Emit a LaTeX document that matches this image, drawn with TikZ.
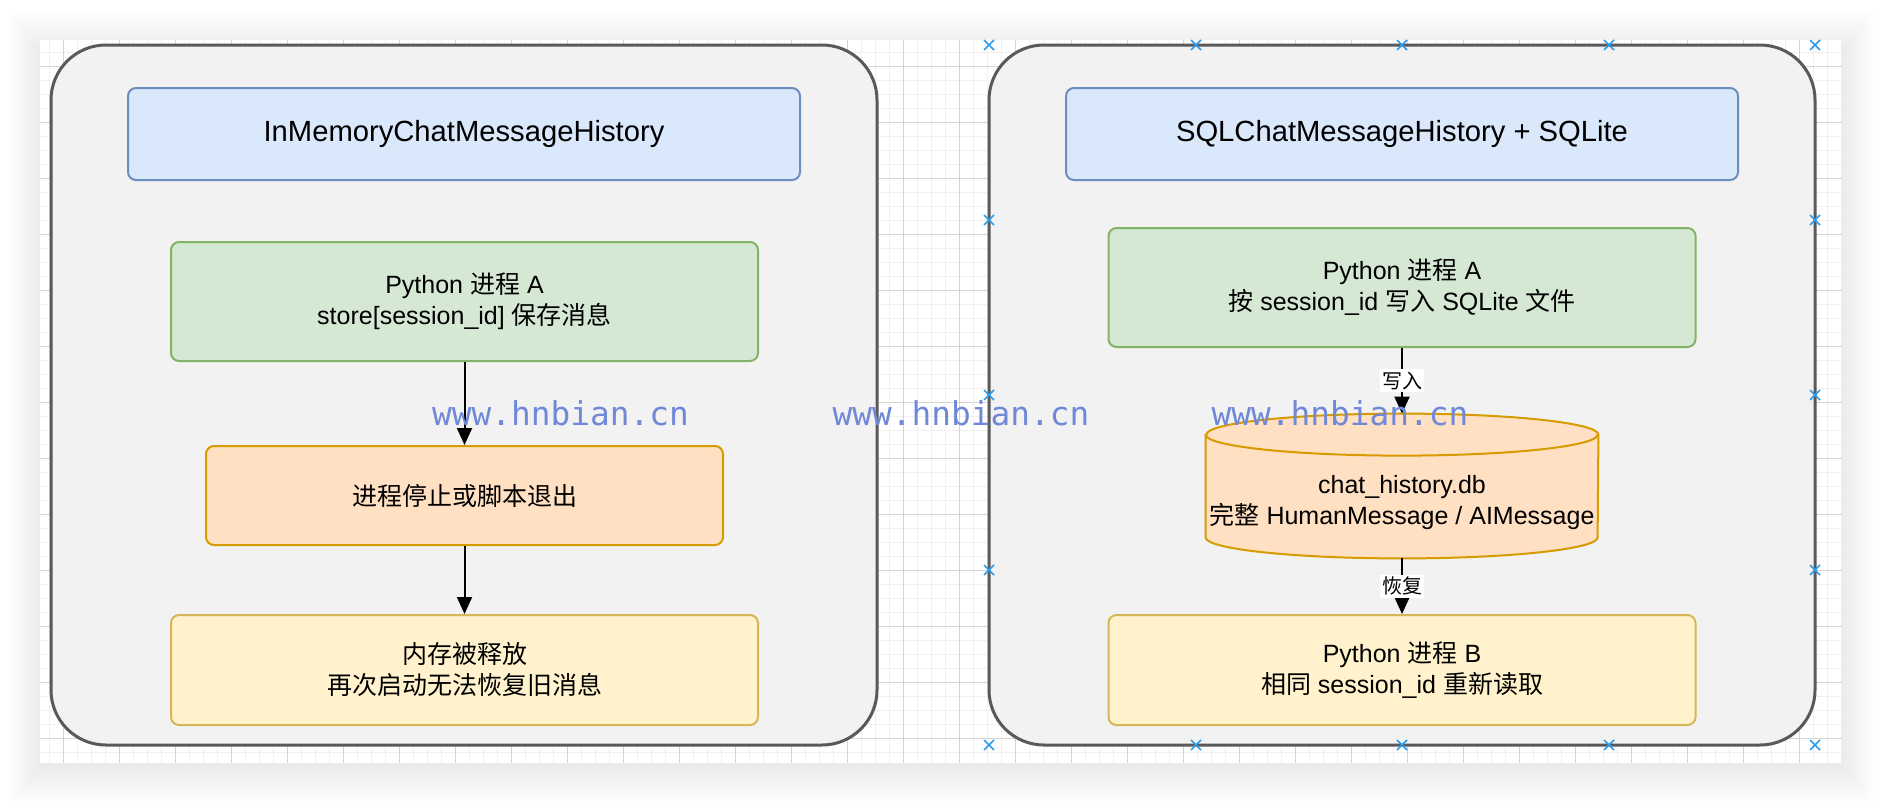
\documentclass[tikz,border=0pt]{standalone}
\usepackage{fontspec}
\setmainfont{Liberation Sans}
\newfontfamily\cjk{Noto Sans CJK SC}
\newfontfamily\wmfont{DejaVu Sans Mono}
\usetikzlibrary{arrows.meta}

\newcommand{\zh}[1]{{\cjk #1}}

\definecolor{panelfill}{HTML}{F2F2F2}
\definecolor{panelline}{HTML}{595959}
\definecolor{bluefill}{HTML}{DAE8FC}
\definecolor{blueline}{HTML}{6C8EBF}
\definecolor{greenfill}{HTML}{D5E8D4}
\definecolor{greenline}{HTML}{82B366}
\definecolor{orangefill}{HTML}{FFE0C2}
\definecolor{orangeline}{HTML}{D79B00}
\definecolor{yellowfill}{HTML}{FFF2CC}
\definecolor{yellowline}{HTML}{D6B656}
\definecolor{minorgrid}{HTML}{F0F0F0}
\definecolor{majorgrid}{HTML}{D4D4D4}
\definecolor{wmblue}{HTML}{7088D8}
\definecolor{handleblue}{HTML}{2D9CEB}

\begin{document}
\begin{tikzpicture}[x=0.5pt,y=-0.5pt,
  panel/.style={draw=panelline, fill=panelfill, line width=1.5pt, rounded corners=27.5pt,
    minimum width=413pt, minimum height=350pt, inner sep=0pt},
  box/.style={draw, line width=1pt, rounded corners=4pt, align=center, inner sep=0pt,
    font=\fontsize{12.5}{15.5}\selectfont},
  titlebox/.style={box, draw=blueline, fill=bluefill, minimum width=336pt, minimum height=46pt,
    font=\fontsize{14.6}{17}\selectfont},
  greenbox/.style={box, draw=greenline, fill=greenfill, minimum width=293.5pt, minimum height=59.5pt},
  orangebox/.style={box, draw=orangeline, fill=orangefill, minimum width=258.5pt, minimum height=49.5pt},
  yellowbox/.style={box, draw=yellowline, fill=yellowfill, minimum width=293.5pt, minimum height=55pt},
  dbline/.style={draw=orangeline, fill=orangefill, line width=1pt},
  flow/.style={-{Triangle[length=8.5pt,width=7.5pt]}, line width=1pt},
  lbl/.style={fill=white, inner sep=1.2pt, font=\fontsize{10}{12}\selectfont},
  wm/.style={anchor=base, text=wmblue, inner sep=0pt, font=\wmfont\fontsize{16.4}{18}\selectfont},
  handle/.style={draw=handleblue, line width=0.75pt}
]
\useasboundingbox (0,0) rectangle (1882,804);

% page shadow and grid
\foreach \i in {1,...,20}
  \fill[black, opacity=0.0045] ({40-1.6*\i},{52-2*\i}) rectangle ({1842+1.6*\i},{767+1.8*\i});
\fill[white] (40,40) rectangle (1842,763);
\foreach \gx in {49,63,...,1841} \draw[minorgrid, line width=0.5pt] (\gx,40) -- (\gx,763);
\foreach \gy in {52,66,...,762} \draw[minorgrid, line width=0.5pt] (40,\gy) -- (1842,\gy);
\foreach \gx in {63,119,...,1841} \draw[majorgrid, line width=0.5pt] (\gx,40) -- (\gx,763);
\foreach \gy in {66,122,...,762} \draw[majorgrid, line width=0.5pt] (40,\gy) -- (1842,\gy);

% left: in memory
\node[panel] (memp) at (464,395) {};
\node[titlebox] (memt) at (464,134) {InMemoryChatMessageHistory};
\node[greenbox] (mema) at (464.5,301.5) {Python \zh{进程} A\\store[session\_id] \zh{保存消息}};
\node[orangebox] (mems) at (464.5,495.5) {\zh{进程停止或脚本退出}};
\node[yellowbox] (meml) at (464.5,670) {\zh{内存被释放}\\\zh{再次启动无法恢复旧消息}};
\draw[flow] (mema) -- (mems);
\draw[flow] (mems) -- (meml);

% right: sqlite
\node[panel] (sqlp) at (1402,395) {};
\node[titlebox] (sqlt) at (1402,134) {SQLChatMessageHistory + SQLite};
\node[greenbox] (sqla) at (1402,287.5) {Python \zh{进程} A\\\zh{按} session\_id \zh{写入} SQLite \zh{文件}};
\node[minimum width=196pt, minimum height=72pt, inner sep=0pt] (db) at (1402,486) {};
\draw[dbline] ([yshift=-10.5pt]db.north west) -- ([yshift=10.5pt]db.south west)
  arc[start angle=180, end angle=360, x radius=98pt, y radius=10.5pt]
  -- ([yshift=-10.5pt]db.north east)
  arc[start angle=0, end angle=180, x radius=98pt, y radius=10.5pt] -- cycle;
\draw[dbline, fill=none] ([yshift=-10.5pt]db.north west)
  arc[start angle=180, end angle=360, x radius=98pt, y radius=10.5pt];
\node[align=center, font=\fontsize{12.5}{15.5}\selectfont] (dbtxt) at (1402,503)
  {chat\_history.db\\\zh{完整} HumanMessage / AIMessage};
\node[yellowbox] (sqlb) at (1402,670) {Python \zh{进程} B\\\zh{相同} session\_id \zh{重新读取}};
\draw[flow] (sqla) -- node[lbl] {\zh{写入}} (db);
\draw[flow] (db) -- node[lbl] {\zh{恢复}} (sqlb);

% watermark
\node[wm] (wm1) at (560.5,425) {www.hnbian.cn};
\node[wm] (wm2) at (961,425) {www.hnbian.cn};
\node[wm] (wm3) at (1340,425) {www.hnbian.cn};

% connection handles
\foreach \hx in {989,1196,1402,1609,1815}
  \foreach \hy in {45,745}
    \draw[handle] (\hx,\hy) +(-5,-5) -- +(5,5) +(-5,5) -- +(5,-5);
\foreach \hx in {989,1815}
  \foreach \hy in {220,395,570}
    \draw[handle] (\hx,\hy) +(-5,-5) -- +(5,5) +(-5,5) -- +(5,-5);
\end{tikzpicture}
\end{document}
